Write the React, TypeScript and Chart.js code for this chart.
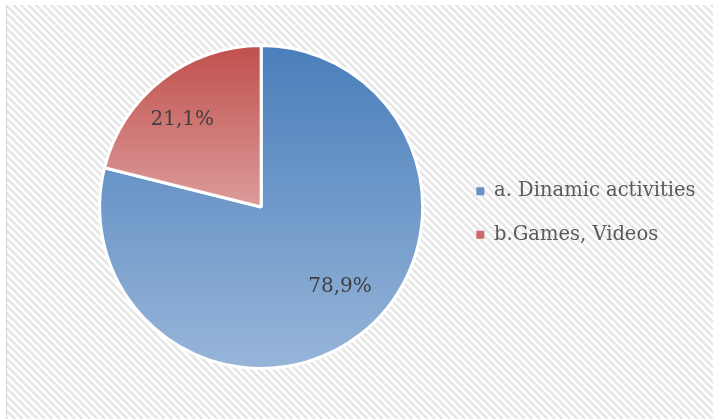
import React, { useEffect, useRef } from "react";
import { Chart, registerables } from "chart.js";

Chart.register(...registerables);

const categories = ["a. Dinamic activities", "b.Games, Videos"];
const values = [78.9, 21.1];
const topColors = ["#4a7ebb", "#c0504d"];
const bottomColors = ["#97b5d9", "#dc9c9a"];
const legendColors = ["#6690c6", "#cb6a67"];
// label placement tweaks (degrees of rotation, fraction of radius)
const labelAngleShift = [-6.6, -4.2];
const labelRadiusFrac = [0.696, 0.728];

const hatchPlugin = {
  id: "hatch",
  beforeDraw(chart: any) {
    const { ctx, width, height } = chart;
    ctx.save();
    ctx.fillStyle = "#ffffff";
    ctx.fillRect(0, 0, width, height);
    ctx.beginPath();
    ctx.rect(7, 5, width - 7, height - 5);
    ctx.clip();
    ctx.strokeStyle = "#e6e6e6";
    ctx.lineWidth = 2.6;
    for (let x = -height; x < width + height; x += 7.5) {
      ctx.beginPath();
      ctx.moveTo(x, 0);
      ctx.lineTo(x + height, height);
      ctx.stroke();
    }
    ctx.restore();
    ctx.save();
    ctx.strokeStyle = "#d4d4d4";
    ctx.lineWidth = 1;
    ctx.beginPath();
    ctx.moveTo(6.5, 5);
    ctx.lineTo(6.5, height);
    ctx.stroke();
    ctx.restore();
  },
};

const labelPlugin = {
  id: "pctLabels",
  afterDatasetsDraw(chart: any) {
    const { ctx } = chart;
    const meta = chart.getDatasetMeta(0);
    ctx.save();
    ctx.font = '20px "DejaVu Serif"';
    ctx.fillStyle = "#404040";
    ctx.textAlign = "center";
    ctx.textBaseline = "middle";
    meta.data.forEach((arc: any, i: number) => {
      const mid = (arc.startAngle + arc.endAngle) / 2 + (labelAngleShift[i] * Math.PI) / 180;
      const r = arc.outerRadius * labelRadiusFrac[i];
      const x = arc.x + Math.cos(mid) * r;
      const y = arc.y + Math.sin(mid) * r;
      ctx.fillText(values[i].toFixed(1).replace(".", ",") + "%", x, y);
    });
    ctx.restore();
  },
};

export default function App() {
  const ref = useRef<HTMLCanvasElement>(null);
  useEffect(() => {
    document.body.style.margin = "0";
    const canvas = ref.current!;
    const chart = new Chart(canvas, {
      type: "pie",
      data: {
        labels: categories,
        datasets: [
          {
            data: values,
            radius: 161.5,
            borderColor: "#ffffff",
            borderWidth: 3,
            backgroundColor: (c: any) => {
              const ch = c.chart;
              const area = ch.chartArea;
              const i = c.dataIndex;
              if (!area) return topColors[i];
              const cy = (area.top + area.bottom) / 2;
              const r = 161.5;
              const y0 = cy - r;
              const y1 = i === 0 ? cy + r : cy;
              const g = ch.ctx.createLinearGradient(0, y0, 0, y1);
              g.addColorStop(0, topColors[i]);
              g.addColorStop(1, bottomColors[i]);
              return g;
            },
          },
        ],
      },
      options: {
        animation: false,
        responsive: true,
        maintainAspectRatio: false,
        layout: { padding: { left: 70, right: 7.5, top: 0, bottom: 5 } },
        plugins: {
          tooltip: { enabled: false },
          legend: {
            position: "right",
            title: {
              display: true,
              text: " ",
              font: { size: 6, lineHeight: 1 },
              padding: 3,
            },
            labels: {
              boxWidth: 8,
              boxHeight: 8,
              padding: 24,
              color: "#595959",
              font: { family: '"DejaVu Serif"', size: 19.5 },
              generateLabels: () =>
                categories.map((text, i) => ({
                  text,
                  fillStyle: legendColors[i],
                  strokeStyle: legendColors[i],
                  lineWidth: 0,
                  hidden: false,
                  index: i,
                  fontColor: "#595959",
                })),
            },
          },
        },
      },
      plugins: [hatchPlugin, labelPlugin],
    });
    return () => chart.destroy();
  }, []);
  return (
    <div style={{ width: 713, height: 419, position: "relative" }}>
      <canvas ref={ref} />
    </div>
  );
}
